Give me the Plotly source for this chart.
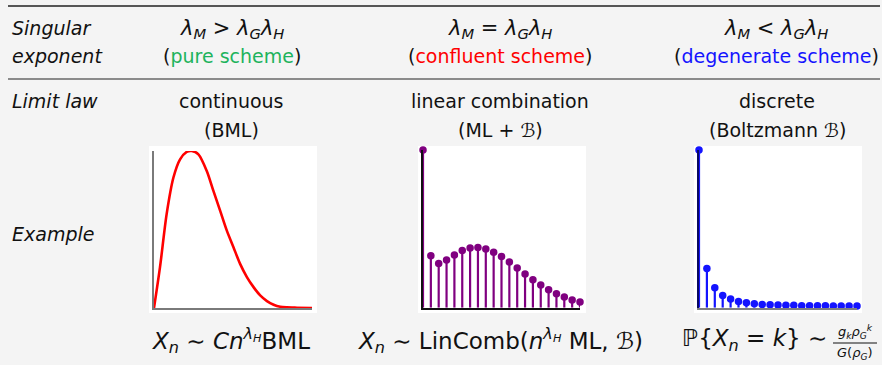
import plotly.graph_objects as go

W, H = 882, 365

# ---- data ----
# continuous (BML-like) density, normalised to peak = 1
bml_x = [0.0, 0.038, 0.080, 0.123, 0.165, 0.207, 0.239, 0.281, 0.334, 0.376, 0.419,
         0.461, 0.503, 0.545, 0.588, 0.630, 0.672, 0.715, 0.757, 0.799, 0.841, 0.905, 1.0]
bml_y = [0.0, 0.26, 0.598, 0.831, 0.947, 0.994, 1.0, 0.979, 0.873, 0.746, 0.619,
         0.493, 0.387, 0.281, 0.197, 0.133, 0.080, 0.044, 0.021, 0.008, 0.004, 0.002, 0.0]

# linear combination (ML + Boltzmann) pmf, k = 0..20
lin_k = list(range(21))
lin_p = [1.0, 0.330, 0.281, 0.302, 0.334, 0.362, 0.378, 0.381, 0.372, 0.351, 0.324,
         0.290, 0.252, 0.214, 0.178, 0.144, 0.114, 0.089, 0.068, 0.049, 0.036]

# discrete (Boltzmann) pmf, k = 0..20
dis_k = list(range(21))
dis_p = [1.0, 0.249, 0.127, 0.078, 0.055, 0.040, 0.032, 0.025, 0.021, 0.019, 0.017,
         0.015, 0.015, 0.013, 0.013, 0.012, 0.012, 0.011, 0.011, 0.011, 0.011]

GREEN = "#1db35c"
RED = "#ff0000"
BLUE = "#1414ff"
PURPLE = "#800080"
FONT = "DejaVu Sans"


def px(x):
    return x / W


def py(y):
    return 1 - y / H


fig = go.Figure()

# panel 1: curve
fig.add_trace(go.Scatter(x=bml_x, y=bml_y, mode="lines",
                         line=dict(color=RED, width=2.6, shape="spline", smoothing=0.8),
                         xaxis="x", yaxis="y", cliponaxis=False, hoverinfo="skip"))


def stems(ks, vs):
    xs, ys = [], []
    for k, v in zip(ks, vs):
        xs += [k, k, None]
        ys += [0, v, None]
    return xs, ys


sx, sy = stems(lin_k, lin_p)
fig.add_trace(go.Scatter(x=sx, y=sy, mode="lines", line=dict(color=PURPLE, width=2.2),
                         xaxis="x2", yaxis="y2", cliponaxis=False, hoverinfo="skip"))
fig.add_trace(go.Scatter(x=lin_k, y=lin_p, mode="markers", marker=dict(color=PURPLE, size=7.5),
                         xaxis="x2", yaxis="y2", cliponaxis=False, hoverinfo="skip"))

sx, sy = stems(dis_k, dis_p)
fig.add_trace(go.Scatter(x=sx, y=sy, mode="lines", line=dict(color=BLUE, width=2.2),
                         xaxis="x3", yaxis="y3", cliponaxis=False, hoverinfo="skip"))
fig.add_trace(go.Scatter(x=dis_k, y=dis_p, mode="markers", marker=dict(color=BLUE, size=7.5),
                         xaxis="x3", yaxis="y3", cliponaxis=False, hoverinfo="skip"))


def ax(domain, rng, color, anchor, width=1.6):
    return dict(domain=domain, range=rng, anchor=anchor, showline=True, linecolor=color, linewidth=width,
                showgrid=False, zeroline=False, showticklabels=False, ticks="", fixedrange=True)


# panel geometry in pixels (left, right, top, bottom of the axes)
P1 = (154, 312, 151, 308)
P2 = (423, 580, 150, 307.7)
P3 = (699, 857, 150, 307.7)

fig.update_layout(
    xaxis=ax([px(P1[0]), px(P1[1])], [0, 1], "#7a7a7a", "y"),
    yaxis=ax([py(P1[3]), py(P1[2])], [0, 1], "#7a7a7a", "x"),
    xaxis2=ax([px(P2[0]), px(P2[1])], [0, 20], "#111111", "y2"),
    yaxis2=ax([py(P2[3]), py(P2[2])], [0, 1], "#111111", "x2"),
    xaxis3=ax([px(P3[0]), px(P3[1])], [0, 20], "#808080", "y3"),
    yaxis3=ax([py(P3[3]), py(P3[2])], [0, 1], "#0a0a60", "x3"),
)

shapes = []
# white boxes behind the panels
for (l, r, t, b) in [P1, P2, P3]:
    shapes.append(dict(type="rect", xref="paper", yref="paper", x0=px(l - 5), x1=px(l + 163),
                       y0=py(313), y1=py(146), fillcolor="white", line=dict(width=0), layer="below"))
# table rules
shapes.append(dict(type="line", xref="paper", yref="paper", x0=px(8), x1=px(880), y0=py(6), y1=py(6),
                   line=dict(color="#222222", width=1.7)))
shapes.append(dict(type="line", xref="paper", yref="paper", x0=px(8), x1=px(880), y0=py(79), y1=py(79),
                   line=dict(color="#222222", width=1.2)))
# fraction bar
shapes.append(dict(type="line", xref="paper", yref="paper", x0=px(833), x1=px(877), y0=py(343), y1=py(343),
                   line=dict(color="#111111", width=1)))

annotations = []


def txt(x, y, s, size=19, anchor="center", color="#111111"):
    annotations.append(dict(x=px(x), y=py(y), xref="paper", yref="paper", text=s, showarrow=False,
                            xanchor=anchor, yanchor="middle", font=dict(family=FONT, size=size, color=color)))


lam = lambda sub: "<i>λ</i><sub><i>%s</i></sub>" % sub

txt(10, 28, "<i>Singular</i>", anchor="left")
txt(10, 56, "<i>exponent</i>", anchor="left")
txt(232, 29, lam("M") + " &gt; " + lam("G") + lam("H"), size=21)
txt(232, 56, "(<span style='color:%s'>pure scheme</span>)" % GREEN)
txt(500, 29, lam("M") + " = " + lam("G") + lam("H"), size=21)
txt(500, 56, "(<span style='color:%s'>confluent scheme</span>)" % RED)
txt(776, 29, lam("M") + " &lt; " + lam("G") + lam("H"), size=21)
txt(776, 56, "(<span style='color:%s'>degenerate scheme</span>)" % BLUE)

txt(10, 101, "<i>Limit law</i>", anchor="left")
txt(232, 101, "continuous")
txt(232, 130, "(BML)")
txt(500, 101, "linear combination")
txt(500, 130, "(ML + ℬ)")
txt(777, 101, "discrete")
txt(777, 130, "(Boltzmann ℬ)")

txt(10, 234, "<i>Example</i>", anchor="left")

txt(231, 340, "<i>X<sub>n</sub></i> ∼ <i>Cn</i><sup><i>λ<sub>H</sub></i></sup>BML", size=23)
txt(500, 340, "<i>X<sub>n</sub></i> ∼ LinComb(<i>n</i><sup><i>λ<sub>H</sub></i></sup> ML, ℬ)", size=23)
txt(829, 340, "ℙ{<i>X<sub>n</sub></i> = <i>k</i>} ∼", size=23, anchor="right")
txt(855, 332, "<i>g<sub>k</sub>ρ</i><sub><i>G</i></sub><sup><i>k</i></sup>", size=13)
txt(855, 353, "<i>G</i>(<i>ρ<sub>G</sub></i>)", size=13)

fig.update_layout(
    width=W, height=H, margin=dict(l=0, r=0, t=0, b=0),
    paper_bgcolor="#f4f4f4", plot_bgcolor="rgba(0,0,0,0)",
    showlegend=False, shapes=shapes, annotations=annotations,
)

fig.write_html("out.html", config={"displayModeBar": False},
               post_script="document.body.style.margin='0';document.body.style.background='#f4f4f4';")
